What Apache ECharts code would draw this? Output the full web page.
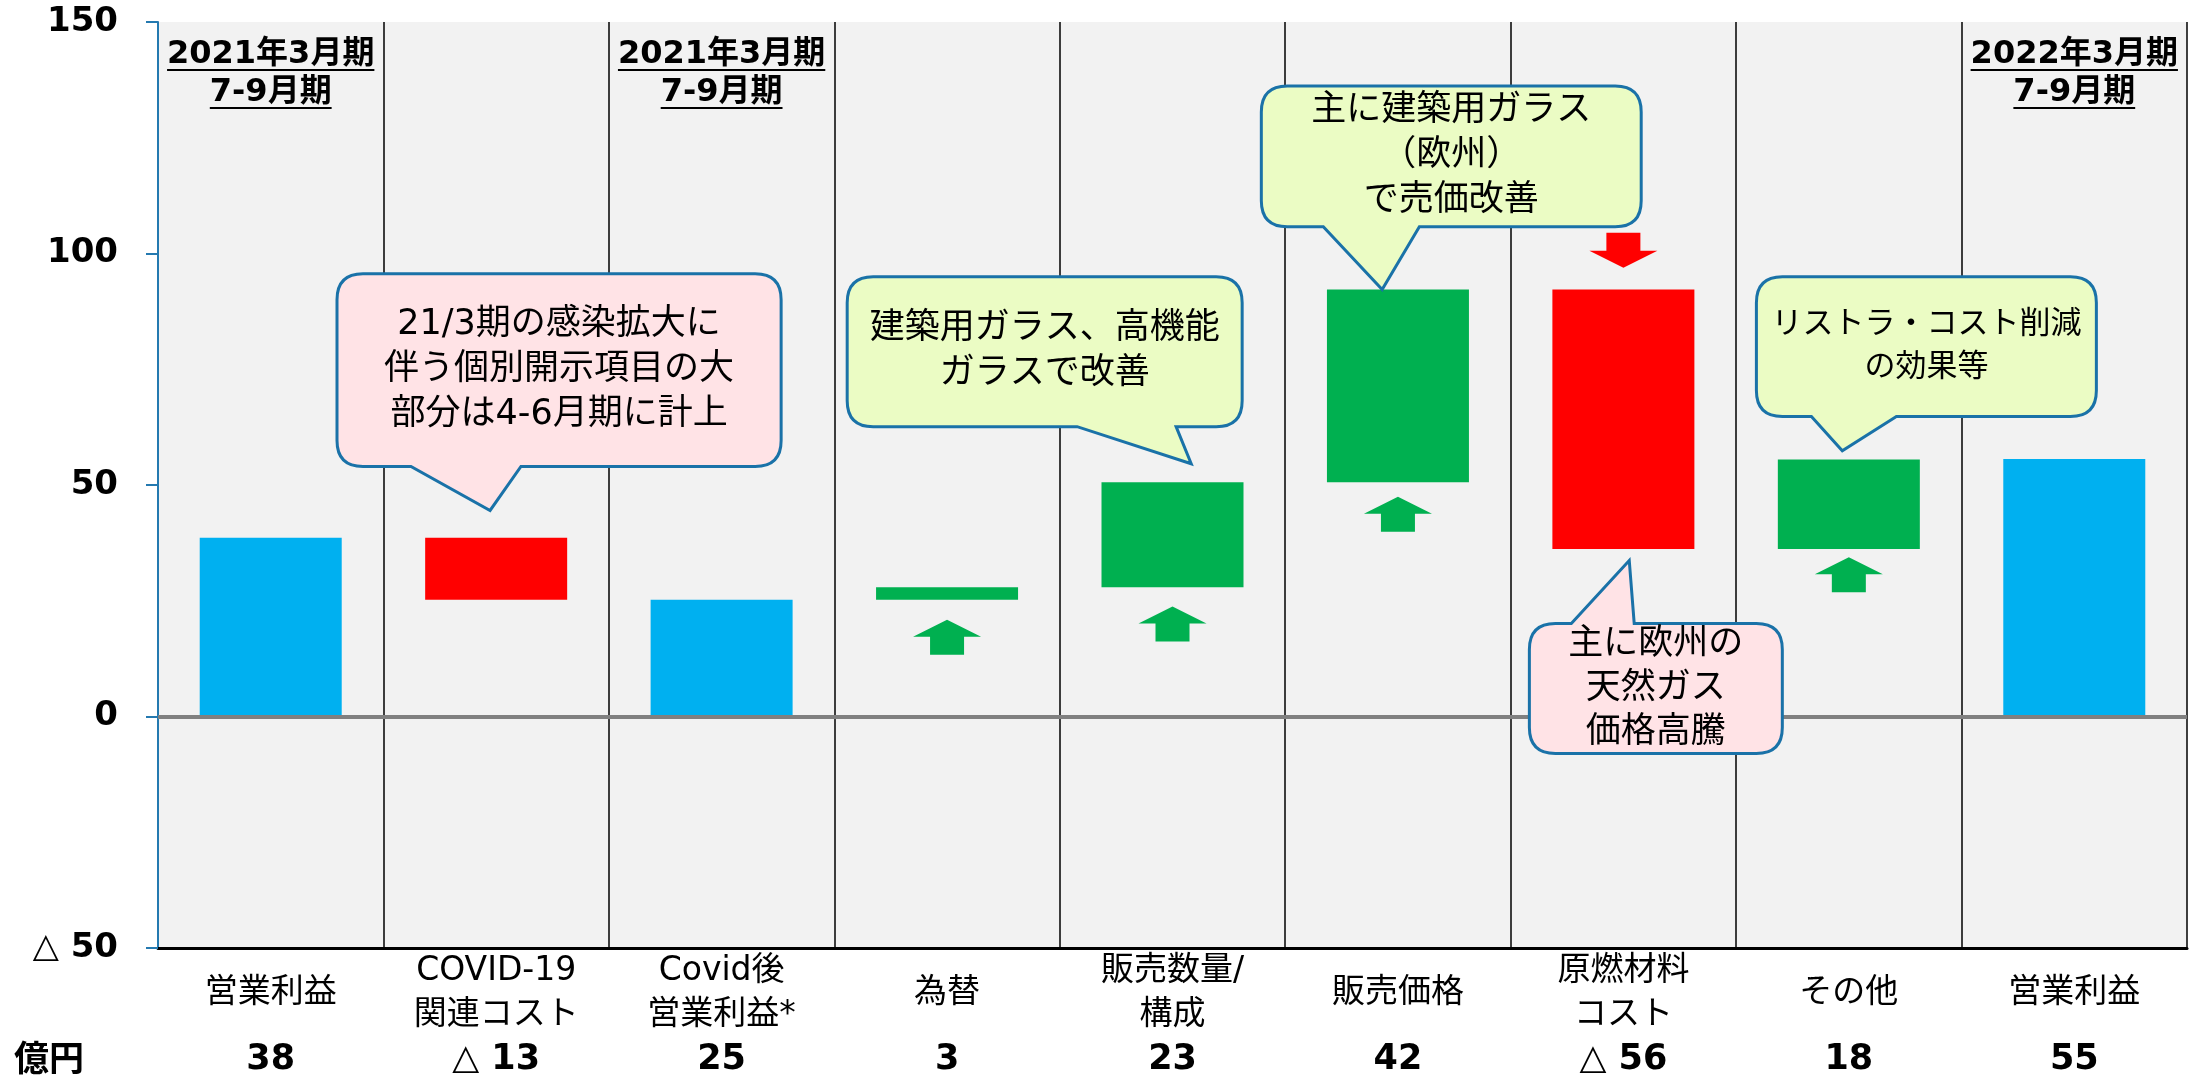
<!DOCTYPE html>
<html><head><meta charset="utf-8">
<script src="https://cdn.jsdelivr.net/npm/echarts@6/dist/echarts.min.js"></script>
<style>html,body{margin:0;padding:0;background:#fff}#c{width:2203px;height:1081px}</style>
</head><body><div id="c"></div>
<script>
// ---- data ----
const categories = ['営業利益','COVID-19\n関連コスト','Covid後\n営業利益*','為替','販売数量/\n構成','販売価格','原燃材料\nコスト','その他','営業利益'];
const kinds = ['total','delta','total','delta','delta','delta','delta','delta','total'];
const values = [38.6, -13.4, 25.2, 2.7, 22.7, 41.6, -56.0, 19.3, 55.6];
const valueLabels = ['38','△ 13','25','3','23','42','△ 56','18','55'];
const yTicks = [-50, 0, 50, 100, 150];
const headerCats = [0, 2, 8];
const headerTexts = [['2021年3月期','7-9月期'],['2021年3月期','7-9月期'],['2022年3月期','7-9月期']];
const upArrowCats = [3, 4, 5, 7];
const upArrowY = [17.1, 20.0, 43.7, 30.6];
const downArrowCats = [6];
const downArrowY = [100.7];
const calloutTexts = [
  '21/3期の感染拡大に\n伴う個別開示項目の大\n部分は4-6月期に計上',
  '建築用ガラス、高機能\nガラスで改善',
  '主に建築用ガラス\n（欧州）\nで売価改善',
  'リストラ・コスト削減\nの効果等',
  '主に欧州の\n天然ガス\n価格高騰'
];
// callout placement (category units from plot left, value units)
const calloutBoxes = [
  {x0:0.794,x1:2.764,yTop:95.6,yBot:54.0,side:'bottom',b1:1.122,b2:1.610,tx:1.473,ty:44.5,pink:true,fs:35,lh:45},
  {x0:3.057,x1:4.809,yTop:95.0,yBot:62.6,side:'bottom',b1:4.077,b2:4.516,tx:4.583,ty:54.6,pink:false,fs:35,lh:45},
  {x0:4.894,x1:6.579,yTop:136.2,yBot:105.8,side:'bottom',b1:5.169,b2:5.595,tx:5.430,ty:92.2,pink:false,fs:35,lh:45},
  {x0:7.090,x1:8.598,yTop:95.0,yBot:64.8,side:'bottom',b1:7.334,b2:7.711,tx:7.471,ty:57.4,pink:false,fs:31,lh:43},
  {x0:6.083,x1:7.205,yTop:20.1,yBot:-8.0,side:'top',b1:6.269,b2:6.548,tx:6.526,ty:33.7,pink:true,fs:35,lh:44}
];

// ---- build waterfall ----
const BLUE='#00B0F0', GREEN='#00B050', RED='#FF0000';
const baseData=[], barData=[];
let level=0;
for(let i=0;i<values.length;i++){
  const v=values[i];
  if(kinds[i]==='total'){ baseData.push(0); barData.push({value:v,itemStyle:{color:BLUE}}); level=v; }
  else { const e=level+v; baseData.push(Math.min(level,e)); barData.push({value:Math.abs(v),itemStyle:{color:v>=0?GREEN:RED}}); level=e; }
}

const CJK='"Noto Sans CJK JP"';
const LAT='"DejaVu Sans", "Noto Sans CJK JP"';
const mctx=document.createElement('canvas').getContext('2d');
function measure(t,font){mctx.font=font;return mctx.measureText(t).width;}

function bubblePath(x0,y0,x1,y1,r,side,b1,b2,tx,ty){
  let d=`M${x0+r},${y0}`;
  if(side==='top') d+=` L${b1},${y0} L${tx},${ty} L${b2},${y0}`;
  d+=` L${x1-r},${y0} Q${x1},${y0} ${x1},${y0+r} L${x1},${y1-r} Q${x1},${y1} ${x1-r},${y1}`;
  if(side==='bottom') d+=` L${b2},${y1} L${tx},${ty} L${b1},${y1}`;
  d+=` L${x0+r},${y1} Q${x0},${y1} ${x0},${y1-r} L${x0},${y0+r} Q${x0},${y0} ${x0+r},${y0} Z`;
  return d;
}

const chart=echarts.init(document.getElementById('c'),null,{renderer:'canvas'});
const option={
  animation:false,
  grid:{left:158,right:16,top:22,bottom:133,show:true,backgroundColor:'#F2F2F2',borderWidth:0,containLabel:false},
  graphic:[{type:'text',left:14,top:1040,style:{text:'億円',fontSize:35,fontWeight:'bold',fontFamily:CJK,fill:'#000'}}],
  xAxis:[
    {type:'category',data:categories,position:'bottom',
     axisLine:{show:true,onZero:false,lineStyle:{color:'#000',width:3}},
     axisTick:{show:false},
     splitLine:{show:true,interval:0,showMinLine:false,lineStyle:{color:'#000',width:1.5}},
     axisLabel:{interval:0,fontSize:33,fontFamily:LAT,color:'#000',lineHeight:44,verticalAlign:'middle',margin:45}},
    {type:'category',data:valueLabels,position:'bottom',
     axisLine:{show:false,onZero:false},axisTick:{show:false},splitLine:{show:false},
     axisLabel:{interval:0,fontSize:35,fontWeight:'bold',fontFamily:LAT,color:'#000',verticalAlign:'middle',margin:112}}
  ],
  yAxis:{type:'value',min:yTicks[0],max:yTicks[yTicks.length-1],interval:50,
    axisLine:{show:true,lineStyle:{color:'#2479B0',width:2}},
    axisTick:{show:true,length:12,lineStyle:{color:'#2479B0',width:2}},
    splitLine:{show:false},
    axisLabel:{fontSize:34,fontWeight:'bold',fontFamily:LAT,color:'#000',margin:40,
      formatter:v=>v<0?'△ '+(-v):String(v)}},
  series:[
    {type:'bar',stack:'wf',data:baseData,barWidth:142,itemStyle:{color:'rgba(0,0,0,0)'},silent:true,z:2},
    {type:'bar',stack:'wf',data:barData,barWidth:142,z:2,
     markLine:{silent:true,symbol:['none','none'],label:{show:false},z:3,
       lineStyle:{color:'#808080',width:4,type:'solid'},data:[{yAxis:0}]}},
    {type:'scatter',data:upArrowCats.map((c,i)=>[c,upArrowY[i]]),symbol:'path://M34,0 L68,17 L51,17 L51,35 L17,35 L17,17 L0,17 Z',
     symbolSize:[68,35],itemStyle:{color:GREEN,opacity:1},z:4},
    {type:'scatter',data:downArrowCats.map((c,i)=>[c,downArrowY[i]]),symbol:'path://M17,0 L51,0 L51,18 L68,18 L34,35 L0,18 L17,18 Z',
     symbolSize:[68,35],itemStyle:{color:RED,opacity:1},z:4},
    {type:'custom',z:10,data:headerCats.map((c,i)=>[c,150,i]),
     renderItem:(params,api)=>{
       const idx=api.value(2); const p=api.coord([api.value(0),150]);
       const font='bold 32px "DejaVu Sans", "Noto Sans CJK JP"';
       const lines=headerTexts[idx]; const offs=[33,71]; const ch=[];
       lines.forEach((t,k)=>{
         const y=p[1]+offs[k]; const w=measure(t,font);
         ch.push({type:'text',style:{text:t,x:p[0],y:y,align:'center',verticalAlign:'middle',fontSize:32,fontWeight:'bold',fontFamily:LAT,fill:'#000'}});
         ch.push({type:'line',shape:{x1:p[0]-w/2,y1:y+15,x2:p[0]+w/2,y2:y+15},style:{stroke:'#000',lineWidth:2}});
       });
       return {type:'group',children:ch};
     }},
    {type:'custom',z:12,data:calloutTexts.map((t,i)=>[0,0,i]),
     renderItem:(params,api)=>{
       const i=api.value(2); const b=calloutBoxes[i];
       const c0=api.coord([0,0]); const cw=api.size([1,0])[0]; const left=c0[0]-cw/2;
       const X=u=>left+u*cw, Y=v=>api.coord([0,v])[1];
       const x0=X(b.x0),x1=X(b.x1),y0=Y(b.yTop),y1=Y(b.yBot);
       const d=bubblePath(x0,y0,x1,y1,26,b.side,X(b.b1),X(b.b2),X(b.tx),Y(b.ty));
       return {type:'group',children:[
         {type:'path',shape:{pathData:d},style:{fill:b.pink?'#FFE3E6':'#EBFCC4',stroke:'#1A72A8',lineWidth:3}},
         {type:'text',style:{text:calloutTexts[i],x:(x0+x1)/2,y:(y0+y1)/2,align:'center',verticalAlign:'middle',
           fontSize:b.fs,fontFamily:LAT,fill:'#000',lineHeight:b.lh}}
       ]};
     }}
  ]
};
chart.setOption(option);
</script></body></html>
